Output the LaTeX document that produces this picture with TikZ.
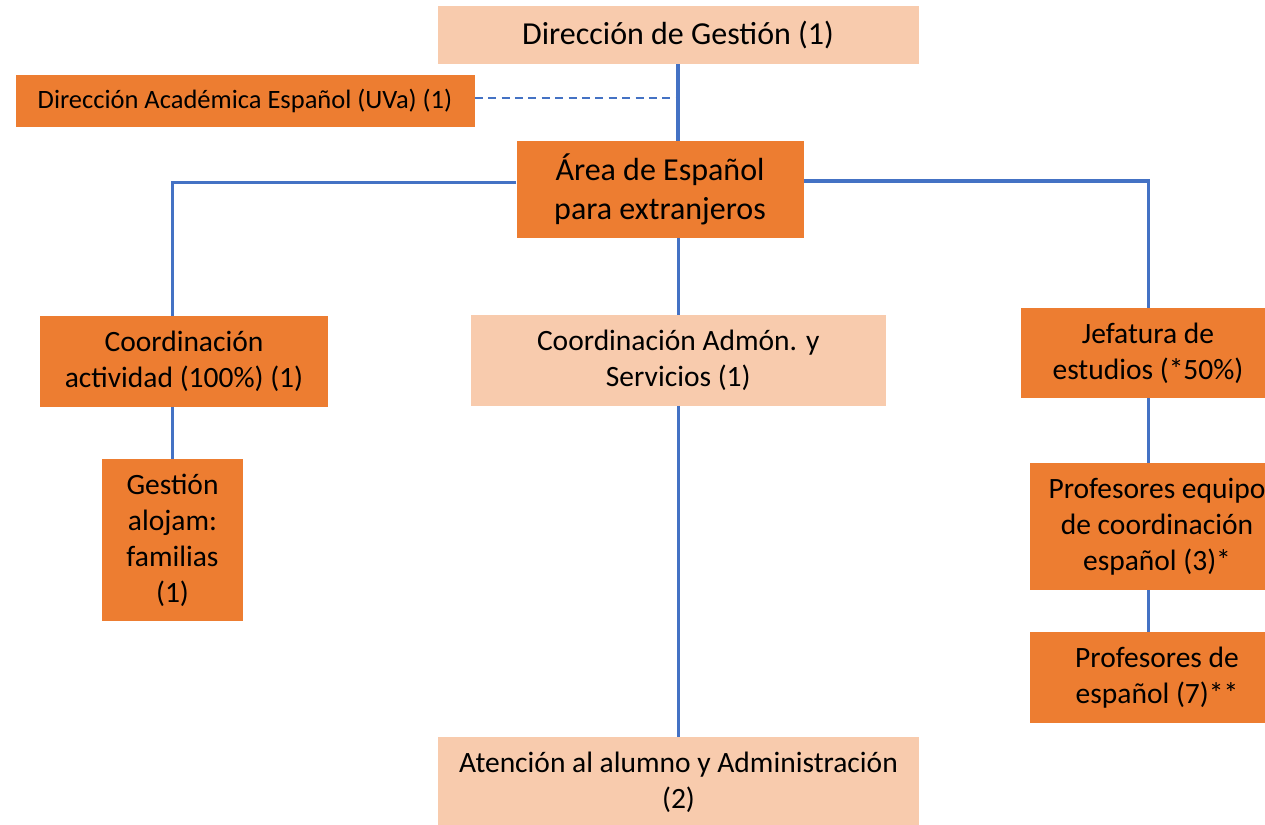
\documentclass[tikz,border=0pt]{standalone}
\usepackage{fontspec}
\setmainfont{Carlito}
\definecolor{darkor}{HTML}{ED7D31}
\definecolor{lightor}{HTML}{F8CBAD}
\definecolor{linkblue}{HTML}{4472C4}
\tikzset{
  box/.style={rectangle, inner sep=0pt, align=center, text=black, font=\fontsize{29.5}{36}\selectfont},
  bigtext/.style={font=\fontsize{32}{39}\selectfont},
  darkbox/.style={box, fill=darkor},
  lightbox/.style={box, fill=lightor},
  link/.style={draw=linkblue, line width=3.4pt},
  dashlink/.style={draw=linkblue, line width=2pt, dash pattern=on 8pt off 5.4pt}
}
\begin{document}
\begin{tikzpicture}[x=1pt,y=-1pt]
\useasboundingbox (0,0) rectangle (1265,824);
\clip (0,0) rectangle (1265,824);
% nodes
\node[lightbox, bigtext, minimum width=481pt, minimum height=58pt] (gestion) at (678,35) {\raisebox{-3pt}{Dirección de Gestión (1)}};
\node[darkbox, minimum width=459pt, minimum height=52pt, font=\fontsize{26.5}{32}\selectfont] (academica) at (245,101) {Dirección Académica Español (UVa) (1)};
\node[darkbox, bigtext, minimum width=287pt, minimum height=96.7pt] (area) at (660,189.3) {Área de Español\\para extranjeros};
\node[darkbox, minimum width=288pt, minimum height=90.7pt] (coordact) at (184,361.3) {Coordinación\\actividad (100\%) (1)};
\node[lightbox, minimum width=414.5pt, minimum height=90.7pt] (coordadm) at (678.25,360.3) {Coordinación Admón. y\\Servicios (1)};
\node[darkbox, minimum width=254pt, minimum height=90pt] (jefatura) at (1148,353) {Jefatura de\\estudios (*50\%)};
\node[darkbox, minimum width=141pt, minimum height=161.4pt] (gestalo) at (172.5,540) {Gestión\\alojam:\\familias\\(1)};
\node[darkbox, minimum width=254pt, minimum height=126.7pt] (profeq) at (1157,526.3) {Profesores equipo\\de coordinación\\español (3)*};
\node[darkbox, minimum width=254pt, minimum height=90.7pt] (profesp) at (1157,677.3) {Profesores de\\español (7)**};
\node[lightbox, minimum width=481pt, minimum height=91pt] (atencion) at (678.5,782.2) {Atención al alumno y Administración\\(2)};
% helper coordinates
\coordinate (spine) at (678.5,0);
\coordinate (leftx) at (172.3,0);
\coordinate (rightx) at (1148.3,0);
% connectors
\draw[link] (gestion.south) -- (gestion.south |- area.north);
\draw[dashlink] ([yshift=2.5pt]academica.east) -- ([yshift=2.5pt]academica.east -| spine);
\draw[link] ([yshift=6.6pt]area.west) -| (leftx |- coordact.north);
\draw[link] ([yshift=8.3pt]area.east) -| (rightx |- jefatura.north);
\draw[link] (spine |- area.south) -- (spine |- coordadm.north);
\draw[link] (spine |- coordadm.south) -- (spine |- atencion.north);
\draw[link] (leftx |- coordact.south) -- (leftx |- gestalo.north);
\draw[link] (rightx |- jefatura.south) -- (rightx |- profeq.north);
\draw[link] (rightx |- profeq.south) -- (rightx |- profesp.north);
\end{tikzpicture}
\end{document}
